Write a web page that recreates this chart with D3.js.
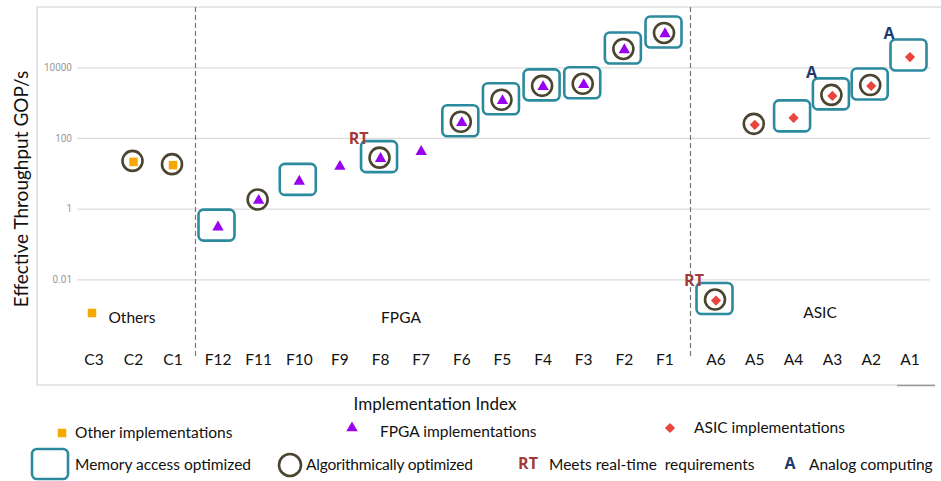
<!DOCTYPE html>
<html>
<head>
<meta charset="utf-8">
<script src="https://cdn.jsdelivr.net/npm/d3@7"></script>
<style>
  body { margin: 0; background: #fff; }
  svg text { font-family: Lato, 'Open Sans', sans-serif; }
  svg text.bold { font-family: 'Open Sans', 'DejaVu Sans', sans-serif; font-weight: 700; }
</style>
</head>
<body>
<div id="chart"></div>
<script>
// Implementation index, left to right
const categories = ['C3', 'C2', 'C1',
  'F12', 'F11', 'F10', 'F9', 'F8', 'F7', 'F6', 'F5', 'F4', 'F3', 'F2', 'F1',
  'A6', 'A5', 'A4', 'A3', 'A2', 'A1'];

// Effective throughput in GOP/s (null = not plotted)
const throughput = [null, 21, 17,
  0.3, 1.7, 5.9, 15.6, 26, 41, 270, 1130, 2800, 3200, 31000, 88000,
  0.0025, 235, 370, 1550, 2960, 19500];

const memoryOptimized = ['F12', 'F10', 'F8', 'F6', 'F5', 'F4', 'F3', 'F2', 'F1', 'A6', 'A4', 'A3', 'A2', 'A1'];
const algoOptimized = ['C2', 'C1', 'F11', 'F8', 'F6', 'F5', 'F4', 'F3', 'F2', 'F1', 'A6', 'A5', 'A3', 'A2'];
const realTime = ['F8', 'A6'];
const analog = ['A3', 'A1'];

const groupNames = ['Others', 'FPGA', 'ASIC'];
const yTicks = [0.01, 1, 100, 10000];

const colors = {
  Others: '#f5a800',
  FPGA: '#9a00f0',
  ASIC: '#e8453c',
  box: '#2b8a9e',
  ring: '#4b4530',
  rt: '#a3393a',
  analog: '#1f3a6e'
};

const W = 941, H = 481;

function groupOf (c) {
  return c[0] === 'C' ? 'Others' : (c[0] === 'F' ? 'FPGA' : 'ASIC');
}

const svg = d3.select('#chart').append('svg')
  .attr('width', W)
  .attr('height', H);

svg.append('rect').attr('width', W).attr('height', H).attr('fill', '#fff');

// one point scale per group so the group gaps stay
const groupRange = { Others: [94, 173], FPGA: [218, 665], ASIC: [716, 910] };
const xScales = {};
groupNames.forEach(g => {
  xScales[g] = d3.scalePoint()
    .domain(categories.filter(c => groupOf(c) === g))
    .range(groupRange[g]);
});
const x = c => xScales[groupOf(c)](c);

const y = d3.scaleLog()
  .domain([0.01, 10000])
  .range([279.3, 67.3]);

const points = categories
  .map((c, i) => ({ id: c, group: groupOf(c), value: throughput[i] }))
  .filter(d => d.value != null);

// frame
const frame = svg.append('g').attr('stroke', '#d0d0d0').attr('stroke-width', 1.2);
frame.append('line').attr('x1', 37).attr('x2', 37).attr('y1', 7).attr('y2', 385);
frame.append('line').attr('x1', 37).attr('x2', 941).attr('y1', 7).attr('y2', 7);
frame.append('line').attr('x1', 37).attr('x2', 935).attr('y1', 385).attr('y2', 385);
svg.append('line').attr('x1', 897).attr('x2', 935).attr('y1', 385.5).attr('y2', 385.5)
  .attr('stroke', '#999').attr('stroke-width', 1.5);

// y axis with gridlines
const yAxis = svg.append('g')
  .attr('transform', 'translate(77,0)')
  .call(d3.axisLeft(y)
    .tickValues(yTicks)
    .tickFormat(d3.format('~g'))
    .tickSize(-853)
    .tickPadding(5));
yAxis.select('.domain').remove();
yAxis.selectAll('.tick line').attr('stroke', '#dcdcdc').attr('stroke-width', 1.2);
yAxis.selectAll('.tick text')
  .attr('fill', '#9a9a9a')
  .style('font-family', 'Roboto, sans-serif')
  .style('font-size', '10px');

svg.append('text')
  .attr('transform', 'translate(28,189) rotate(-90)')
  .attr('text-anchor', 'middle')
  .style('font-size', '19px')
  .attr('fill', '#111')
  .text('Effective Throughput GOP/s');

// group separators
const sepX = [
  (x('C1') + x('F12')) / 2,
  (x('F1') + x('A6')) / 2
];
svg.selectAll('.sep')
  .data(sepX)
  .enter().append('line')
  .attr('class', 'sep')
  .attr('x1', d => d).attr('x2', d => d)
  .attr('y1', 7).attr('y2', 356)
  .attr('stroke', '#777')
  .attr('stroke-width', 1.2)
  .attr('stroke-dasharray', '5,3');

// category labels
svg.selectAll('.cat')
  .data(categories)
  .enter().append('text')
  .attr('class', 'cat')
  .attr('x', d => x(d))
  .attr('y', 365)
  .attr('text-anchor', 'middle')
  .style('font-size', '15.5px')
  .attr('fill', '#111')
  .text(d => d);

// group names
const groupLabelPos = { Others: [132, 323], FPGA: [401, 323], ASIC: [820, 318] };
svg.selectAll('.grp')
  .data(groupNames)
  .enter().append('text')
  .attr('class', 'grp')
  .attr('x', d => groupLabelPos[d][0])
  .attr('y', d => groupLabelPos[d][1])
  .attr('text-anchor', 'middle')
  .style('font-size', '15.5px')
  .attr('fill', '#111')
  .text(d => d);

// ASIC marker is a square turned 45 degrees
const symbolSize = { Others: 72, FPGA: 56, ASIC: 52 };
const symbolType = { Others: d3.symbolSquare, FPGA: d3.symbolTriangle, ASIC: d3.symbolSquare };
const symbol = g => d3.symbol().type(symbolType[g]).size(symbolSize[g])();
const symbolAt = (g, px, py) => 'translate(' + px + ',' + py + ')' + (g === 'ASIC' ? ' rotate(45)' : '');

// small "Others" marker beside the group name
svg.append('path')
  .attr('d', symbol('Others'))
  .attr('transform', symbolAt('Others', 92, 313))
  .attr('fill', colors.Others);

const plot = svg.append('g');

// memory access optimized boxes
plot.selectAll('.box')
  .data(points.filter(d => memoryOptimized.includes(d.id)))
  .enter().append('rect')
  .attr('class', 'box')
  .attr('x', d => x(d.id) - 19.5)
  .attr('y', d => y(d.value) - 17.5)
  .attr('width', 36)
  .attr('height', 31)
  .attr('rx', 5)
  .attr('fill', '#fff')
  .attr('stroke', colors.box)
  .attr('stroke-width', 2.6);

// algorithmically optimized rings
plot.selectAll('.ring')
  .data(points.filter(d => algoOptimized.includes(d.id)))
  .enter().append('circle')
  .attr('class', 'ring')
  .attr('cx', d => x(d.id) - 1)
  .attr('cy', d => y(d.value) - 1)
  .attr('r', 10)
  .attr('fill', '#fff')
  .attr('stroke', colors.ring)
  .attr('stroke-width', 2.6);

// the implementations themselves
plot.selectAll('.pt')
  .data(points)
  .enter().append('path')
  .attr('class', 'pt')
  .attr('d', d => symbol(d.group))
  .attr('transform', d => symbolAt(d.group, x(d.id), y(d.value)))
  .attr('fill', d => colors[d.group]);

// RT / A annotations
plot.selectAll('.rt')
  .data(points.filter(d => realTime.includes(d.id)))
  .enter().append('text')
  .attr('class', 'rt bold')
  .attr('x', d => x(d.id) - 22)
  .attr('y', d => y(d.value) - 15)
  .attr('text-anchor', 'middle')
  .style('font-size', '16px')
  .attr('fill', colors.rt)
  .text('RT');

plot.selectAll('.an')
  .data(points.filter(d => analog.includes(d.id)))
  .enter().append('text')
  .attr('class', 'an bold')
  .attr('x', d => x(d.id) - 21)
  .attr('y', d => y(d.value) - 18)
  .attr('text-anchor', 'middle')
  .style('font-size', '16px')
  .attr('fill', colors.analog)
  .text('A');

// x axis title
svg.append('text')
  .attr('x', 435)
  .attr('y', 410)
  .attr('text-anchor', 'middle')
  .style('font-size', '17px')
  .attr('fill', '#111')
  .text('Implementation Index');

// legend
const legend = svg.append('g').style('font-size', '15.5px').attr('fill', '#111');

const legendRow1 = [
  { g: 'Others', mx: 62, my: 433, tx: 75, ty: 438, label: 'Other implementations' },
  { g: 'FPGA', mx: 352, my: 428, tx: 380, ty: 437, label: 'FPGA implementations' },
  { g: 'ASIC', mx: 670, my: 428, tx: 694, ty: 433, label: 'ASIC implementations' }
];
legendRow1.forEach(d => {
  legend.append('path')
    .attr('d', symbol(d.g))
    .attr('transform', symbolAt(d.g, d.mx, d.my))
    .attr('fill', colors[d.g]);
  legend.append('text').attr('x', d.tx).attr('y', d.ty).text(d.label);
});

legend.append('rect')
  .attr('x', 32).attr('y', 449)
  .attr('width', 36).attr('height', 30)
  .attr('rx', 5)
  .attr('fill', 'none')
  .attr('stroke', colors.box)
  .attr('stroke-width', 2.6);
legend.append('text').attr('x', 75).attr('y', 470).text('Memory access optimized');

legend.append('circle')
  .attr('cx', 290).attr('cy', 465).attr('r', 11)
  .attr('fill', 'none')
  .attr('stroke', colors.ring)
  .attr('stroke-width', 2.6);
legend.append('text').attr('x', 306).attr('y', 470).style('letter-spacing', '-0.2px').text('Algorithmically optimized');

legend.append('text').attr('class', 'bold').attr('x', 528).attr('y', 469)
  .attr('text-anchor', 'middle')
  .style('font-size', '16px')
  .attr('fill', colors.rt)
  .text('RT');
legend.append('text').attr('x', 549).attr('y', 470).attr('xml:space', 'preserve').text('Meets real-time  requirements');

legend.append('text').attr('class', 'bold').attr('x', 790).attr('y', 469)
  .attr('text-anchor', 'middle')
  .style('font-size', '16px')
  .attr('fill', colors.analog)
  .text('A');
legend.append('text').attr('x', 809).attr('y', 470).text('Analog computing');
</script>
</body>
</html>
